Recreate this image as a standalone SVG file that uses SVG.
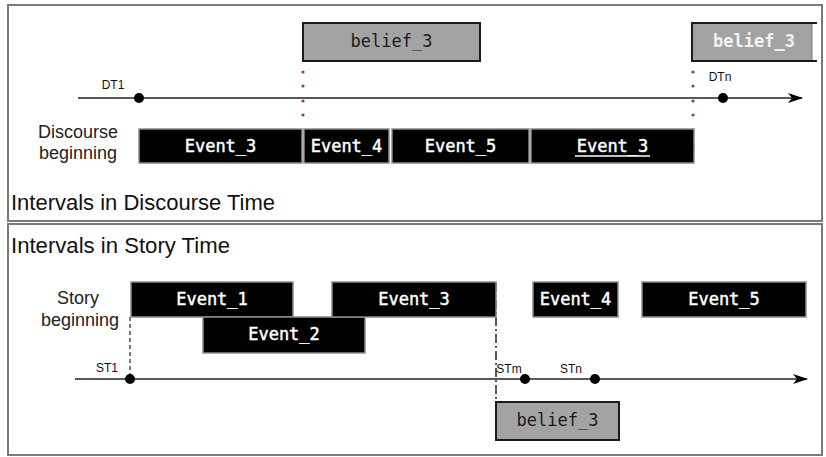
<svg xmlns="http://www.w3.org/2000/svg" width="826" height="457" viewBox="0 0 826 457">
<style>
.panel{fill:none;stroke:#7a7a7a;stroke-width:2}
.ev{fill:#000;stroke:#8c8c8c;stroke-width:1.5}
.evt{font-family:"DejaVu Sans Mono",monospace;font-size:17px;fill:#fff;stroke:#fff;stroke-width:0.45;text-anchor:middle}
.bel{fill:#a3a3a3;stroke:#1a1a1a;stroke-width:2}
.belt{font-family:"DejaVu Sans Mono",monospace;font-size:17px;fill:#1a1a1a;text-anchor:middle}
.lbl{font-family:"Liberation Sans",Arial,sans-serif;font-size:12px;fill:#111;text-anchor:middle}
.cap{font-family:"Liberation Sans",Arial,sans-serif;font-size:18px;fill:#222;text-anchor:middle}
.title{font-family:"Liberation Sans",Arial,sans-serif;font-size:21.5px;fill:#111}
.axis{stroke:#222;stroke-width:1.3;fill:none}
.dot{fill:#000}
.rd{fill:#a0334d}
</style>
<defs>
<marker id="arr" viewBox="0 0 15 10" refX="14" refY="5" markerWidth="15" markerHeight="10" markerUnits="userSpaceOnUse" orient="auto">
<path d="M0,0 L15,5 L0,10 L4,5 Z" fill="#000"/>
</marker>
</defs>
<rect width="826" height="457" fill="#fff"/>

<g id="panel-discourse">
<rect class="panel" x="8" y="5" width="814" height="216"/>
<text class="title" x="11" y="210" textLength="264" lengthAdjust="spacingAndGlyphs">Intervals in Discourse Time</text>
<text class="cap" x="78" y="138">Discourse</text>
<text class="cap" x="78" y="159">beginning</text>
</g>

<g id="panel-story">
<rect class="panel" x="8" y="224" width="814" height="231"/>
<text class="title" x="11" y="253" textLength="219" lengthAdjust="spacingAndGlyphs">Intervals in Story Time</text>
<text class="cap" x="78" y="304">Story</text>
<text class="cap" x="80" y="326">beginning</text>
</g>

<g id="connectors">
<line class="axis" x1="78" y1="98" x2="802" y2="98" marker-end="url(#arr)"/>
<line class="axis" x1="75" y1="379" x2="807" y2="379" marker-end="url(#arr)"/>
<line x1="130" y1="317" x2="130" y2="376" stroke="#333" stroke-width="1.3" stroke-dasharray="4,3"/>
<line x1="496" y1="283" x2="496" y2="402" stroke="#222" stroke-width="1.5" stroke-dasharray="9,3,2,3"/>
<g id="dotted-1">
<circle class="rd" cx="303" cy="72" r="1.6"/><circle class="rd" cx="303" cy="86" r="1.6"/><circle class="rd" cx="303" cy="101" r="1.6"/><circle class="rd" cx="303" cy="115" r="1.6"/>
</g>
<g id="dotted-2">
<circle class="rd" cx="693" cy="72" r="1.6"/><circle class="rd" cx="693" cy="86" r="1.6"/><circle class="rd" cx="693" cy="101" r="1.6"/><circle class="rd" cx="693" cy="115" r="1.6"/><circle class="rd" cx="693" cy="130" r="1.6"/><circle class="rd" cx="693" cy="145" r="1.6"/>
</g>
</g>

<g id="DT1"><circle class="dot" cx="139" cy="98" r="5"/><text class="lbl" x="113" y="89">DT1</text></g>
<g id="DTn"><circle class="dot" cx="723" cy="98" r="5"/><text class="lbl" x="720" y="81">DTn</text></g>
<g id="ST1"><circle class="dot" cx="130" cy="379" r="5"/><text class="lbl" x="107" y="372">ST1</text></g>
<g id="STm"><circle class="dot" cx="525" cy="379" r="5"/><text class="lbl" x="509" y="373">STm</text></g>
<g id="STn"><circle class="dot" cx="595" cy="379" r="5"/><text class="lbl" x="571" y="373">STn</text></g>

<g id="d-belief3-a"><rect class="bel" x="303" y="23" width="177" height="38"/><text class="belt" x="391.5" y="47">belief_3</text></g>
<g id="d-belief3-b">
<rect x="692" y="23" width="120" height="38" fill="#a3a3a3"/>
<path d="M817,23 H692 V61 H817" fill="none" stroke="#1a1a1a" stroke-width="2"/>
<line x1="812" y1="24" x2="812" y2="60" stroke="#777" stroke-width="1"/>
<text class="belt" x="754" y="47" style="fill:#f2f2f2;font-weight:bold">belief_3</text>
</g>

<g id="d-event3-a"><rect class="ev" x="139" y="129" width="163" height="34"/><text class="evt" x="220.5" y="152">Event_3</text></g>
<g id="d-event4"><rect class="ev" x="304" y="129" width="85" height="34"/><text class="evt" x="346.5" y="152">Event_4</text></g>
<g id="d-event5"><rect class="ev" x="392" y="129" width="137" height="34"/><text class="evt" x="460.5" y="152">Event_5</text></g>
<g id="d-event3-b"><rect class="ev" x="531" y="129" width="163" height="34"/><text class="evt" x="612.5" y="152">Event_3</text><line x1="575" y1="156" x2="650" y2="156" stroke="#fff" stroke-width="1.4"/></g>

<g id="s-event1"><rect class="ev" x="131" y="282" width="162" height="35"/><text class="evt" x="212" y="305">Event_1</text></g>
<g id="s-event2"><rect class="ev" x="203" y="317" width="162" height="36"/><text class="evt" x="284" y="340">Event_2</text></g>
<g id="s-event3"><rect class="ev" x="332" y="282" width="164" height="35"/><text class="evt" x="414" y="305">Event_3</text></g>
<g id="s-event4"><rect class="ev" x="533" y="282" width="85" height="35"/><text class="evt" x="575.5" y="305">Event_4</text></g>
<g id="s-event5"><rect class="ev" x="642" y="282" width="164" height="35"/><text class="evt" x="724" y="305">Event_5</text></g>
<g id="s-belief3"><rect class="bel" x="496" y="402" width="123" height="38"/><text class="belt" x="557.5" y="426">belief_3</text></g>
</svg>
